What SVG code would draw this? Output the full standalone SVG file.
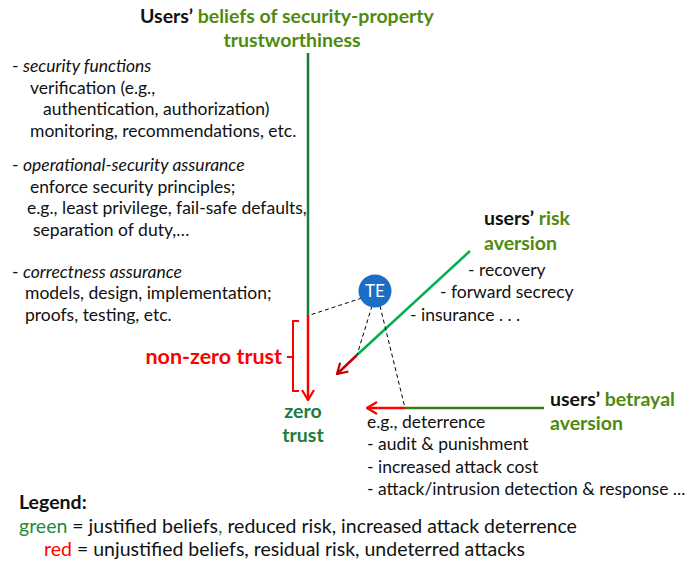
<svg xmlns="http://www.w3.org/2000/svg" width="694" height="564" viewBox="0 0 694 564">
  <style>
    text { font-family: Lato, "Open Sans", sans-serif; fill: #111; }
    .body { font-size: 17.5px; }
    .legend { font-size: 19.5px; }
    .bold { font-weight: bold; }
    .head { font-size: 19.5px; font-weight: bold; }
    .big { font-size: 21.5px; }
    .olive { fill: #4f8a10; }
    .dgreen { fill: #1e7b3a; }
    .red { fill: #ff0000; }
    .dash { stroke: #000; stroke-width: 1; stroke-dasharray: 4 3; fill: none; }
  </style>
  <defs>
    <marker id="arrRed" viewBox="0 0 12 14" refX="11" refY="7" markerWidth="12" markerHeight="14" markerUnits="userSpaceOnUse" orient="auto">
      <path d="M1,1 L11,7 L1,13" fill="none" stroke="#ff0000" stroke-width="2.2"/>
    </marker>
    <marker id="arrDark" viewBox="0 0 12 14" refX="11" refY="7" markerWidth="12" markerHeight="14" markerUnits="userSpaceOnUse" orient="auto">
      <path d="M1,1 L11,7 L1,13" fill="none" stroke="#c00000" stroke-width="2.2"/>
    </marker>
  </defs>

  <!-- trust axis and aversion axes -->
  <g id="connectors">
    <line x1="308" y1="315" x2="308" y2="400" stroke="#ff0000" stroke-width="2.5" marker-end="url(#arrRed)"/>
    <line x1="308" y1="53" x2="308" y2="316" stroke="#1a7a3a" stroke-width="2.5"/>
    <line x1="357" y1="355" x2="337" y2="374" stroke="#c00000" stroke-width="2.5" marker-end="url(#arrDark)"/>
    <line x1="470" y1="251" x2="357" y2="355" stroke="#00b050" stroke-width="2.5"/>
    <line x1="405" y1="408" x2="367" y2="408" stroke="#ff0000" stroke-width="2.5" marker-end="url(#arrRed)"/>
    <line x1="544" y1="408" x2="405" y2="408" stroke="#3b7a1a" stroke-width="2.5"/>
    <!-- TE links -->
    <line class="dash" x1="362" y1="298" x2="310" y2="315"/>
    <line class="dash" x1="372" y1="306" x2="357" y2="355"/>
    <line class="dash" x1="380" y1="306" x2="405" y2="408"/>
    <!-- non-zero trust bracket -->
    <path d="M299,321 H293 V391 H299 M293,357 H287" fill="none" stroke="#ff0000" stroke-width="2"/>
  </g>

  <g id="title">
    <text class="head" x="140" y="23">Users’ <tspan class="olive">beliefs of security-property</tspan></text>
    <text class="head olive" x="292" y="47" text-anchor="middle">trustworthiness</text>
  </g>

  <g id="assurance-list">
    <text class="body" x="12" y="72">- <tspan font-style="italic">security functions</tspan></text>
    <text class="body" x="30" y="94">verification (e.g.,</text>
    <text class="body" x="43" y="115">authentication, authorization)</text>
    <text class="body" x="30" y="137">monitoring, recommendations, etc.</text>
    <text class="body" x="12" y="171">- <tspan font-style="italic">operational-security assurance</tspan></text>
    <text class="body" x="30" y="193">enforce security principles;</text>
    <text class="body" x="27" y="214">e.g., least privilege, fail-safe defaults,</text>
    <text class="body" x="33" y="236">separation of duty,…</text>
    <text class="body" x="12" y="278">- <tspan font-style="italic">correctness assurance</tspan></text>
    <text class="body" x="25" y="299">models, design, implementation;</text>
    <text class="body" x="25" y="321">proofs, testing, etc.</text>
  </g>

  <g id="non-zero-trust">
    <text class="head big red" x="282" y="364" text-anchor="end">non-zero trust</text>
  </g>

  <g id="zero-trust">
    <text class="head dgreen" x="303" y="418" text-anchor="middle">zero</text>
    <text class="head dgreen" x="303" y="442" text-anchor="middle">trust</text>
  </g>

  <g id="TE">
    <circle cx="375" cy="291" r="16.5" fill="#1a6fc4"/>
    <text x="375" y="297" text-anchor="middle" font-size="17" style="fill:#fff">TE</text>
  </g>

  <g id="risk-aversion">
    <text class="head" x="484" y="225">users’ <tspan class="olive">risk</tspan></text>
    <text class="head olive" x="484" y="250">aversion</text>
    <text class="body" x="468" y="276">- recovery</text>
    <text class="body" x="440" y="298">- forward secrecy</text>
    <text class="body" x="410" y="321">- insurance . . .</text>
  </g>

  <g id="betrayal-aversion">
    <text class="head" x="550" y="406">users’ <tspan class="olive">betrayal</tspan></text>
    <text class="head olive" x="550" y="430">aversion</text>
    <text class="body" x="367" y="428">e.g., deterrence</text>
    <text class="body" x="367" y="450">- audit &amp; punishment</text>
    <text class="body" x="367" y="473">- increased attack cost</text>
    <text class="body" x="367" y="495">- attack/intrusion detection &amp; response ...</text>
  </g>

  <g id="legend">
    <text class="legend bold" x="19" y="509">Legend:</text>
    <text class="legend" x="19" y="533"><tspan style="fill:#1e8a3c">green</tspan> = justified beliefs<tspan style="fill:#1e8a3c">,</tspan> reduced risk, increased attack deterrence</text>
    <text class="legend" x="44" y="556"><tspan class="red">red</tspan> = unjustified beliefs, residual risk, undeterred attacks</text>
  </g>
</svg>
